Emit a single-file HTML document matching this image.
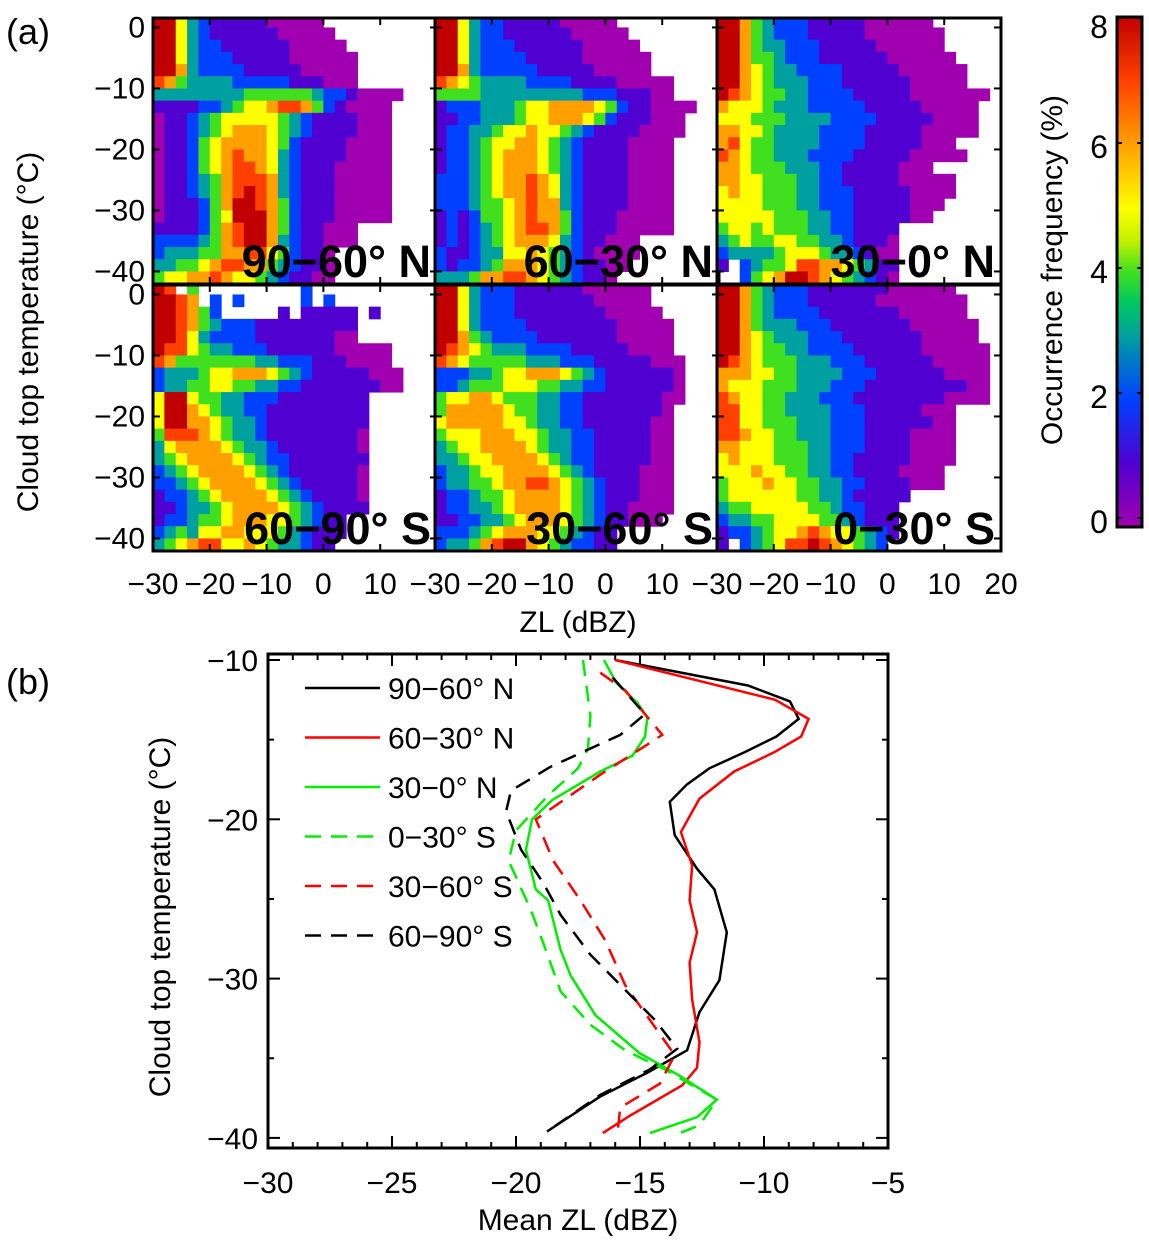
<!DOCTYPE html>
<html><head><meta charset="utf-8"><style>
html,body{margin:0;padding:0;background:#fff;}
svg{display:block;font-family:"Liberation Sans",Arial,sans-serif;}
</style></head><body>
<svg id="fig" width="1149" height="1244" viewBox="0 0 1149 1244" xmlns="http://www.w3.org/2000/svg">
<defs>
<linearGradient id="cbgrad" x1="0" y1="1" x2="0" y2="0">
<stop offset="0" stop-color="#a000b0"/><stop offset="0.125" stop-color="#5000d0"/><stop offset="0.25" stop-color="#0040ff"/>
<stop offset="0.375" stop-color="#00a0a0"/><stop offset="0.44" stop-color="#00c860"/><stop offset="0.5" stop-color="#40e020"/>
<stop offset="0.56" stop-color="#c0f000"/><stop offset="0.625" stop-color="#ffff00"/><stop offset="0.75" stop-color="#ffa000"/>
<stop offset="0.875" stop-color="#ff4000"/><stop offset="1" stop-color="#c00000"/>
</linearGradient>
</defs>
<g id="heat"></g>
<g id="pb"></g>
</svg>
<script>
// ---------- DATA: panel (a) heatmaps, 2 dBZ x 2 degC bins (digits = % frequency, '.' = no data)
const regionNames = ["90\u221260\u00b0 N","60\u221230\u00b0 N","30\u22120\u00b0 N","60\u221290\u00b0 S","30\u221260\u00b0 S","0\u221230\u00b0 S"];
const zlBinStart = -30, zlBinWidth = 2, tBinStart = 2, tBinWidth = 2;
const grid90N = ["885321111100000","8853211111100000","88532211111100000","885322211111000000","886322221111100000","764333322222111000","3333333344444432210000","111122345567764210000","011234555554321111000","011234566654321111000","011245666654211110000","011245676653211110000","011245677653211100000","011234677763211100000","011234678763211100000","011124688764211100000","011124588864211100000","111124678864211000","222234678863211000","2333446677542110","3344567766432110","4556676554321100"];
const grid60N = ["8853221111100000","88532211111100000","885322211111100000","8853222211111000000","8863222221111100000","765433332222111100000","444433333333322211100","12223334556666542110000","1122333455666542111000","1223345565543211110000","122345566543211110000","122345666543211110000","122345666543211110000","222345667653211110000","222345667653211110000","222344567663211110000","121244567664211100000","121234567764211100000","121234566653211000","211233556543210000","21223466654321100","3334667765432110"];
const grid30N = ["8864322211111000000","88643222111110000000","88643322211111000000","886443222111111000000","8865433222211111000000","8865433322211111100000","876544332222111110000000","65554333222221111100000","55544433332222111110000","66554333322221111100000","675443333222211111000","7654433322221111100000","6654443332211111000","665544433221111100000","565544433222111110000","55554443322211111000","5555544433221111100","4554544433221111","3454455443321110","2333345554332100","1.23445776654311","..24568876543210"];
const grid90S = ["87.4.........2","8876.2.2.....2.2","887642.....1.11111.1","887643222111111111","887532222111111100","877543322211111100000","764444444332221110000","2333455666543211111000","2334455443322111111100","5885443322211111111","5886543322111111111","5886654332111111111","4777654332111111110","3566665433211111110","3456666543221111111","2345666654321111110","2234566665432111110","1223456666543211110","1123345666654321111","12234456665543211","23435566555432111","3456775565433211"];
const grid60S = ["8853222111111000000","8853222111111100000","88532221111111100000","885322221111111100000","886432222111111100000","876543332222111110000","7654444433322211111000","2223345566654321111110","2234445554433221111110","4556654443322111111100","466666544332211111110","566666554332211111100","455566655433221111100","345566665433221111100","334556666543221111100","233455666654321111000","233445667765432111000","122344566665432111000","122334566665432110000","11223345666543211000","2223456665543211","2334678865432211"];
const grid0S = ["886432221111111000000","8864322211111100000000","8864322221111111000000","88643332221111111000000","88654333222111111100000","886544332222111111000000","876544433322211111100000","666554433332221111110000","655544433322211111111100","765544333222111111110000","775544333322211111000","775544433322211111100","776554433322211110000","665554443322211110000","565554443322111110000","55565544332211110000","45556554433221111000","45555554433211111","3445555544322111","2334455554432111","1223455676554321","1.2345778765432"];
const grids = [grid90N, grid60N, grid30N, grid90S, grid60S, grid0S];
const heatXTicks = [-30,-20,-10,0,10];
const heatYTicks = [0,-10,-20,-30,-40];
const cbTicks = [0,2,4,6,8];

// ---------- DATA: panel (b) mean ZL profiles: [ZL dBZ, T degC]
const seriesLabels = ["90\u221260\u00b0 N","60\u221230\u00b0 N","30\u22120\u00b0 N","0\u221230\u00b0 S","30\u221260\u00b0 S","60\u221290\u00b0 S"];
const s90N = [[-16.0,-10],[-10.65,-11.6],[-8.95,-12.6],[-8.6,-13.7],[-9.5,-14.8],[-10.8,-15.8],[-12.2,-16.8],[-13.1,-17.8],[-13.8,-18.9],[-13.6,-21.0],[-12.7,-23.1],[-12.0,-24.4],[-11.5,-27.1],[-11.8,-30.1],[-12.6,-32.1],[-13.1,-34.5],[-14.7,-35.9],[-16.6,-37.4],[-18.75,-39.6]];
const s60N = [[-16.0,-10],[-9.55,-12.5],[-8.2,-13.7],[-8.5,-14.8],[-9.6,-15.8],[-11.2,-17.0],[-12.6,-18.7],[-13.35,-20.8],[-12.9,-22.9],[-13.0,-25.1],[-12.7,-27.1],[-13.0,-29.0],[-12.9,-31.3],[-12.6,-34.0],[-12.7,-35.6],[-13.3,-36.7],[-15.4,-38.6],[-16.5,-39.7]];
const s30N = [[-16.45,-10],[-15.97,-11.4],[-15.1,-12.7],[-14.7,-13.6],[-14.8,-14.8],[-15.3,-16.0],[-16.6,-17.0],[-18.55,-18.8],[-19.35,-20.0],[-19.6,-21.9],[-19.2,-24.4],[-18.7,-25.1],[-18.2,-28.2],[-17.8,-29.8],[-16.8,-32.3],[-15.0,-34.7],[-13.4,-36.1],[-11.9,-37.6],[-12.7,-38.7],[-14.6,-39.7]];
const s0S = [[-17.3,-10],[-17.0,-13.5],[-17.1,-15.6],[-17.5,-16.8],[-18.7,-18.5],[-20.0,-20.7],[-20.3,-22.6],[-19.4,-25.7],[-18.8,-28.2],[-18.2,-30.8],[-17.0,-32.9],[-15.6,-34.5],[-14.0,-35.7],[-11.9,-37.6],[-12.6,-39.2],[-13.4,-39.7]];
const s30S = [[-16.6,-10.8],[-15.6,-11.9],[-14.1,-14.7],[-16.6,-17.2],[-19.2,-20.0],[-18.5,-22.6],[-17.4,-25.1],[-16.4,-27.6],[-15.6,-30.4],[-14.6,-32.6],[-13.6,-34.8],[-14.2,-36.6],[-15.8,-38.1],[-15.9,-39.6]];
const s90S = [[-16.1,-11.1],[-14.8,-13.4],[-15.8,-14.7],[-18.6,-16.7],[-20.2,-18.2],[-20.4,-19.5],[-19.8,-21.9],[-18.9,-24.0],[-18.2,-26.0],[-17.0,-28.5],[-15.6,-30.7],[-14.4,-32.6],[-13.5,-34.4],[-14.6,-35.7],[-16.6,-37.3],[-18.75,-39.6]];
const seriesData = [s90N, s60N, s30N, s0S, s30S, s90S];
const seriesColors = ["#000","#f00","#0e0","#0e0","#f00","#000"];
const seriesDashed = [false,false,false,true,true,true];
const bXTicks = [-30,-25,-20,-15,-10,-5];
const bYTicks = [-10,-20,-30,-40];

// ---------- rendering
const NS = "http://www.w3.org/2000/svg";
function mk(tag, attrs, parent){const e=document.createElementNS(NS,tag);for(const k in attrs)e.setAttribute(k,attrs[k]);if(parent)parent.appendChild(e);return e;}
function txt(s, attrs, parent){const e=mk("text",attrs,parent);e.textContent=s;return e;}
const stops=[[0,[160,0,176]],[1,[80,0,208]],[2,[0,64,255]],[3,[0,160,160]],[3.5,[0,200,96]],[4,[64,224,32]],[4.5,[192,240,0]],[5,[255,255,0]],[6,[255,160,0]],[7,[255,64,0]],[8,[192,0,0]]];
function cmap(v){v=Math.max(0,Math.min(8,v));for(let i=1;i<stops.length;i++){if(v<=stops[i][0]){const a=stops[i-1],b=stops[i];const f=(v-a[0])/(b[0]-a[0]);const c=a[1].map((x,j)=>Math.round(x+(b[1][j]-x)*f));return `rgb(${c[0]},${c[1]},${c[2]})`;}}return "rgb(192,0,0)";}

const heat=document.getElementById("heat");
const colX=[153,435,717], rowY=[18,285], PW=284, PH=266;
const fs=30;
regionNames.forEach((name,p)=>{
  const x0=colX[p%3], y0=rowY[Math.floor(p/3)];
  const xS=v=>x0+(v+30)*(PW/50);
  const yS=t=>y0+(1.55-t)*6.1;
  const g=mk("g",{},heat);
  
  
  const cid="clip"+p;
  const cp=mk("clipPath",{id:cid},g);mk("rect",{x:x0,y:y0,width:PW,height:PH},cp);
  const cells=mk("g",{"clip-path":`url(#${cid})`},g);
  grids[p].forEach((row,r)=>{
    for(let c=0;c<25&&c<row.length;c++){
      const ch=row[c]; if(ch==='.') continue;
      const v=+ch;
      const zl=zlBinStart+c*zlBinWidth, tt=tBinStart-r*tBinWidth;
      const x1=xS(zl), x2=xS(zl+zlBinWidth), y1=yS(tt), y2=yS(tt-tBinWidth);
      const rc=mk("rect",{x:x1.toFixed(2),y:y1.toFixed(2),width:(x2-x1+0.5).toFixed(2),height:(y2-y1+0.5).toFixed(2),fill:cmap(v)},cells);
      
      
    }
  });
  heatXTicks.concat([20]).forEach(v=>{const x=xS(v);mk("line",{x1:x,y1:y0+PH,x2:x,y2:y0+PH-7,stroke:"#000","stroke-width":2},g);mk("line",{x1:x,y1:y0,x2:x,y2:y0+7,stroke:"#000","stroke-width":2},g);});
  heatYTicks.forEach(t=>{const y=yS(t);mk("line",{x1:x0,y1:y,x2:x0+7,y2:y,stroke:"#000","stroke-width":2},g);mk("line",{x1:x0+PW,y1:y,x2:x0+PW-7,y2:y,stroke:"#000","stroke-width":2},g);});
  mk("rect",{x:x0,y:y0,width:PW,height:PH,fill:"none",stroke:"#000","stroke-width":3},g);
  const lab=txt(name,{x:x0+PW-6,y:y0+PH-7,"text-anchor":"end","font-size":45,"font-weight":"bold",fill:"#000"},g);
  
  
  if(p%3===0){heatYTicks.forEach(t=>{const l=txt(t===0?"0":"\u2212"+(-t),{x:x0-8,y:yS(t)+10,"text-anchor":"end","font-size":fs},g);});}
  if(p>=3){const ticks=p===5?heatXTicks.concat([20]):heatXTicks;ticks.forEach(v=>{const l=txt(v<0?"\u2212"+(-v):String(v),{x:xS(v),y:594,"text-anchor":"middle","font-size":fs},g);});}
});
function lab(s,a,name){const l=txt(s,a,document.getElementById("fig"));return l;}
lab("(a)",{x:6,y:44,"font-size":36},"panel-a-label");
lab("(b)",{x:6,y:694,"font-size":36},"panel-b-label");
lab("Cloud top temperature (\u00b0C)",{x:38,y:332,"font-size":30,"text-anchor":"middle",transform:"rotate(-90 38 332)"},"y-axis-title-a");
lab("ZL (dBZ)",{x:578,y:632,"font-size":30,"text-anchor":"middle"},"x-axis-title-a");
const fig=document.getElementById("fig");
const cbr=mk("rect",{x:1117,y:17,width:25,height:510,fill:"url(#cbgrad)",stroke:"#000","stroke-width":3},fig);

const cbY=v=>518-v*62.5;
cbTicks.forEach(v=>{const y=cbY(v);mk("line",{x1:1117,y1:y,x2:1122,y2:y,stroke:"#000","stroke-width":2},fig);mk("line",{x1:1142,y1:y,x2:1137,y2:y,stroke:"#000","stroke-width":2},fig);
  const l=txt(String(v),{x:1099,y:Math.max(y+15,38),"font-size":32,"text-anchor":"middle"},fig);});
lab("Occurrence frequency (%)",{x:1062,y:270,"font-size":30,"text-anchor":"middle",transform:"rotate(-90 1062 270)"},"colorbar-title");

const pb=document.getElementById("pb");
const BX0=268,BX1=888,BY0=654,BY1=1148;
const bx=v=>BX0+(v+30)*(BX1-BX0)/25;
const by=t=>660+(-10-t)*15.93;
for(let v=-30;v<=-5;v++){const x=bx(v),L=(v%5===0)?12:6;mk("line",{x1:x,y1:BY1,x2:x,y2:BY1-L,stroke:"#000","stroke-width":2},pb);mk("line",{x1:x,y1:BY0,x2:x,y2:BY0+L,stroke:"#000","stroke-width":2},pb);}
for(let t=-10;t>=-40;t-=5){const y=by(t),L=(t%10===0)?12:6;mk("line",{x1:BX0,y1:y,x2:BX0+L,y2:y,stroke:"#000","stroke-width":2},pb);mk("line",{x1:BX1,y1:y,x2:BX1-L,y2:y,stroke:"#000","stroke-width":2},pb);}
bXTicks.forEach(v=>{const l=txt("\u2212"+(-v),{x:bx(v),y:1193,"font-size":fs,"text-anchor":"middle"},pb);});
bYTicks.forEach(t=>{const l=txt("\u2212"+(-t),{x:258,y:by(t)+11,"font-size":fs,"text-anchor":"end"},pb);});
lab("Mean ZL (dBZ)",{x:578,y:1230,"font-size":30,"text-anchor":"middle"},"x-axis-title-b");
lab("Cloud top temperature (\u00b0C)",{x:170,y:917,"font-size":30,"text-anchor":"middle",transform:"rotate(-90 170 917)"},"y-axis-title-b");
seriesData.forEach((d,i)=>{
  const pts=d.map(p=>bx(p[0]).toFixed(1)+","+by(p[1]).toFixed(1)).join(" ");
  const pl=mk("polyline",{points:pts,fill:"none",stroke:seriesColors[i],"stroke-width":2.5,"stroke-dasharray":seriesDashed[i]?"16 10":"none"},pb);
  
  
  const ly=688+49.5*i;
  const ll=mk("line",{x1:305,y1:ly,x2:380,y2:ly,stroke:seriesColors[i],"stroke-width":2.5,"stroke-dasharray":seriesDashed[i]?"16 10":"none"},pb);
  
  const lt=txt(seriesLabels[i],{x:388,y:ly+11,"font-size":30},pb);
  
});
mk("rect",{x:BX0,y:BY0,width:BX1-BX0,height:BY1-BY0,fill:"none",stroke:"#000","stroke-width":3},pb);
</script>
</body></html>
